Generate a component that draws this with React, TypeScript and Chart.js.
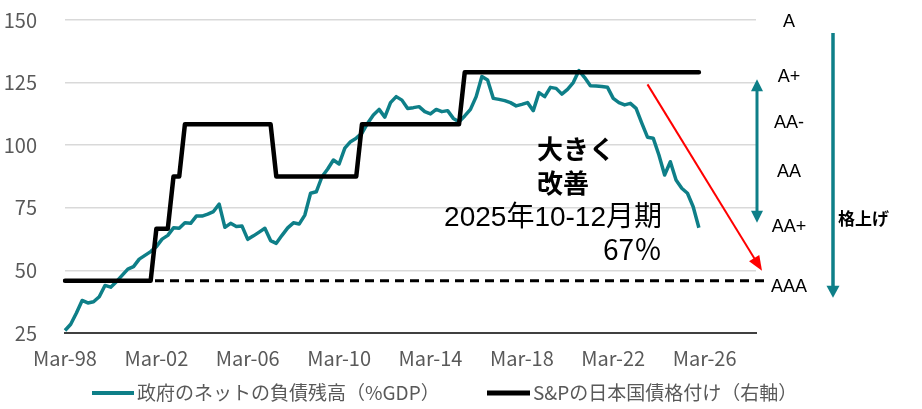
import React, { useEffect, useRef } from 'react';
import { Chart, registerables } from 'chart.js';

Chart.register(...registerables);

// ---- categories (quarterly, Mar-98 .. Jun-28) ----
const QUARTER_MONTHS = ['Mar', 'Jun', 'Sep', 'Dec'];
const START_YEAR = 1998;
const QUARTER_COUNT = 122;
const categories: string[] = Array.from({ length: QUARTER_COUNT }, (_, i) => {
  const yy = (START_YEAR + Math.floor(i / 4)) % 100;
  return `${QUARTER_MONTHS[i % 4]}-${String(yy).padStart(2, '0')}`;
});
const LABEL_EVERY = 16;

// ---- left axis ----
const leftMin = 25;
const leftMax = 150;
const leftStep = 25;

// ---- series: government net debt (% of GDP), Mar-98 .. Dec-25 ----
const netDebt = [
  26, 28.5, 33, 38, 37, 37.5, 39.5, 44, 43.3, 45.5,
  48, 50.5, 51.5, 54.5, 56, 57.5, 59.5, 62.5, 64, 67,
  66.8, 69, 68.8, 71.7, 71.7, 72.5, 73.5, 76.5, 67.2, 68.8,
  67.5, 67.7, 62.4, 63.8, 65.3, 66.8, 61.9, 60.8, 64, 67,
  69, 68.5, 72.1, 80.8, 81.4, 87.4, 90.5, 94.1, 92.5, 98.8,
  101.4, 102.8, 104.8, 108.8, 112.1, 114.3, 111.2, 117, 119.4, 118,
  114.7, 115, 115.4, 113.4, 112.5, 114.3, 113.4, 113.8, 110.7, 109.4,
  111.7, 114.3, 119.4, 127.4, 126, 118.7, 118.3, 117.8, 117, 115.7,
  116.3, 117, 113.8, 121, 119.4, 123.1, 122.7, 120.4, 122.3, 125,
  129.8, 127, 123.7, 123.6, 123.4, 123.1, 118.7, 117, 116.1, 116.7,
  114.7, 108.8, 103.2, 102.8, 96.1, 88.1, 93.4, 86.1, 82.8, 80.8,
  75.4, 67,
];

// ---- series: S&P rating of JGBs (0 = AAA ... 5 = A), Mar-98 .. Dec-25 ----
const spRating = [
  0, 0, 0, 0, 0, 0, 0, 0, 0, 0, 0, 0, 0, 0, 0, 0,
  1, 1, 1,
  2, 2,
  3, 3, 3, 3, 3, 3, 3, 3, 3, 3, 3, 3, 3, 3, 3, 3,
  2, 2, 2, 2, 2, 2, 2, 2, 2, 2, 2, 2, 2, 2, 2,
  3, 3, 3, 3, 3, 3, 3, 3, 3, 3, 3, 3, 3, 3, 3, 3, 3, 3,
  4, 4, 4, 4, 4, 4, 4, 4, 4, 4, 4, 4, 4, 4, 4, 4, 4, 4, 4, 4, 4,
  4, 4, 4, 4, 4, 4, 4, 4, 4, 4, 4, 4, 4, 4, 4, 4, 4, 4, 4, 4, 4,
];
const ratingLabels = ['AAA', 'AA+', 'AA', 'AA-', 'A+', 'A'];
const ratingMin = -1;
const ratingMax = 5;
const aaaLevel = 0;

// ---- texts ----
const seriesNames = ['政府のネットの負債残高（%GDP）', 'S&Pの日本国債格付け（右軸）'];
const noteLines = ['大きく', '改善'];
const latestLines = ['2025年10-12月期', '67％'];
const upgradeLabel = '格上げ';

const TEAL = '#0e7f88';
const GRAY_TEXT = '#595959';
const CJK = "'Noto Sans CJK JP', sans-serif";
const LATIN = "'Liberation Sans', 'Noto Sans CJK JP', sans-serif";

function arrowHead(ctx: CanvasRenderingContext2D, tx: number, ty: number, angle: number, len: number, half: number, color: string) {
  ctx.save();
  ctx.translate(tx, ty);
  ctx.rotate(angle);
  ctx.beginPath();
  ctx.moveTo(0, 0);
  ctx.lineTo(-len, -half);
  ctx.lineTo(-len, half);
  ctx.closePath();
  ctx.fillStyle = color;
  ctx.fill();
  ctx.restore();
}

function arrow(ctx: CanvasRenderingContext2D, x1: number, y1: number, x2: number, y2: number, color: string, width: number, len: number, half: number, both = false) {
  const ang = Math.atan2(y2 - y1, x2 - x1);
  const sx = both ? x1 + Math.cos(ang) * (len - 2) : x1;
  const sy = both ? y1 + Math.sin(ang) * (len - 2) : y1;
  const ex = x2 - Math.cos(ang) * (len - 2);
  const ey = y2 - Math.sin(ang) * (len - 2);
  ctx.save();
  ctx.strokeStyle = color;
  ctx.lineWidth = width;
  ctx.lineCap = 'butt';
  ctx.beginPath();
  ctx.moveTo(sx, sy);
  ctx.lineTo(ex, ey);
  ctx.stroke();
  ctx.restore();
  arrowHead(ctx, x2, y2, ang, len, half, color);
  if (both) arrowHead(ctx, x1, y1, ang + Math.PI, len, half, color);
}

const overlayPlugin = {
  id: 'overlay',
  afterDatasetsDraw(chart: any) {
    const { ctx, chartArea, scales } = chart;
    const xs = scales.x;
    const ys = scales.y;
    const rs = scales.y2;
    const ca = chartArea;
    ctx.save();

    // dashed AAA reference line
    const yA = rs.getPixelForValue(aaaLevel);
    ctx.strokeStyle = '#000';
    ctx.lineWidth = 3;
    ctx.setLineDash([9, 6]);
    ctx.beginPath();
    ctx.moveTo(ca.left, yA);
    ctx.lineTo(ca.right + 13, yA);
    ctx.stroke();
    ctx.setLineDash([]);

    // red trend arrow
    arrow(ctx, xs.getPixelForValue(102), ys.getPixelForValue(124.3), ca.right + 6, yA - 10, '#ff0000', 2, 15, 6);

    // teal double arrow (A+ .. AA+)
    arrow(ctx, ca.right + 1, rs.getPixelForValue(4) + 7, ca.right + 1, rs.getPixelForValue(1) - 6, TEAL, 3, 12, 6, true);

    // long teal arrow (upgrade)
    arrow(ctx, ca.right + 77, ca.top + 13, ca.right + 77, yA + 17, TEAL, 3.5, 12, 6.5);

    // rating labels
    const labelOffsets = [6, -2, -4.5, -1.5, 5, 2];
    ctx.fillStyle = '#000';
    ctx.font = `18px ${LATIN}`;
    ctx.textAlign = 'center';
    ctx.textBaseline = 'middle';
    ratingLabels.forEach((lab, k) => {
      ctx.fillText(lab, ca.right + 33, rs.getPixelForValue(k) + labelOffsets[k]);
    });

    // upgrade label
    ctx.font = `bold 17px ${CJK}`;
    ctx.textAlign = 'left';
    ctx.fillText(upgradeLabel, ca.right + 82, 219);

    // big note
    ctx.font = `bold 26px ${CJK}`;
    ctx.textAlign = 'left';
    ctx.fillText(noteLines[0], 537, 149);
    ctx.fillText(noteLines[1], 537, 183);

    // latest value note
    ctx.textAlign = 'right';
    ctx.textBaseline = 'alphabetic';
    ctx.font = `28px ${LATIN}`;
    ctx.fillText(latestLines[0], 662, 226);
    ctx.font = `28px ${CJK}`;
    ctx.fillText(latestLines[1], 662, 260);

    // legend
    const ly = 393;
    ctx.textBaseline = 'middle';
    ctx.textAlign = 'left';
    ctx.font = `19px ${CJK}`;
    ctx.lineCap = 'butt';
    ctx.strokeStyle = TEAL;
    ctx.lineWidth = 4;
    ctx.beginPath();
    ctx.moveTo(92, ly);
    ctx.lineTo(134, ly);
    ctx.stroke();
    ctx.fillStyle = GRAY_TEXT;
    ctx.fillText(seriesNames[0], 137, ly);
    ctx.strokeStyle = '#000';
    ctx.lineWidth = 5;
    ctx.beginPath();
    ctx.moveTo(487, ly);
    ctx.lineTo(530, ly);
    ctx.stroke();
    ctx.fillText(seriesNames[1], 533, ly);

    ctx.restore();
  },
};

export default function App() {
  const ref = useRef<HTMLCanvasElement>(null);
  useEffect(() => {
    if (!ref.current) return;
    const chart = new Chart(ref.current, {
      type: 'line',
      data: {
        labels: categories,
        datasets: [
          {
            label: seriesNames[0],
            data: netDebt,
            borderColor: TEAL,
            backgroundColor: TEAL,
            borderWidth: 3.5,
            pointRadius: 0,
            tension: 0,
            yAxisID: 'y',
            order: 1,
            borderJoinStyle: 'round',
          },
          {
            label: seriesNames[1],
            data: spRating,
            borderColor: '#000',
            backgroundColor: '#000',
            borderWidth: 4.5,
            pointRadius: 0,
            tension: 0,
            yAxisID: 'y2',
            order: 0,
            borderCapStyle: 'round',
            borderJoinStyle: 'round',
          },
        ],
      },
      options: {
        responsive: true,
        maintainAspectRatio: false,
        animation: false,
        layout: { padding: { left: 0, right: 166, top: 20, bottom: 0 } },
        plugins: {
          legend: { display: false },
          tooltip: { enabled: false },
        },
        scales: {
          x: {
            type: 'category',
            offset: false,
            grid: { display: false, drawTicks: false },
            border: { display: true, color: '#404040', width: 2 },
            ticks: {
              autoSkip: false,
              maxRotation: 0,
              minRotation: 0,
              padding: 13,
              color: GRAY_TEXT,
              font: { family: CJK, size: 20 },
              callback: (_v: any, i: number) => (i % LABEL_EVERY === 0 ? categories[i] : ''),
            },
            afterFit: (s: any) => { s.height = 76; },
          },
          y: {
            position: 'left',
            min: leftMin,
            max: leftMax,
            grid: { color: '#d9d9d9', lineWidth: 1.5, drawTicks: false },
            border: { display: false },
            ticks: {
              stepSize: leftStep,
              padding: 28,
              color: GRAY_TEXT,
              font: { family: CJK, size: 20 },
            },
            afterFit: (s: any) => { s.width = 65; s.paddingTop = 0; s.paddingBottom = 0; },
          },
          y2: {
            position: 'right',
            display: false,
            min: ratingMin,
            max: ratingMax,
          },
        },
      },
      plugins: [overlayPlugin],
    } as any);
    return () => chart.destroy();
  }, []);
  return (
    <div style={{ position: 'absolute', left: 0, top: 0, width: 922, height: 409, background: '#fff' }}>
      <canvas ref={ref} />
    </div>
  );
}
